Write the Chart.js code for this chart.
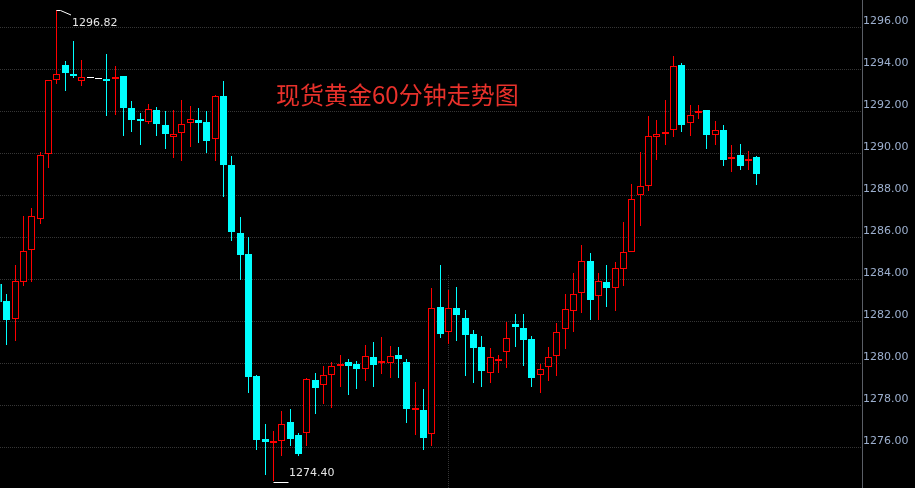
<!DOCTYPE html>
<html>
<head>
<meta charset="utf-8">
<title>现货黄金60分钟走势图</title>
<script src="https://cdn.jsdelivr.net/npm/chart.js@4.4.1/dist/chart.umd.min.js"></script>
<style>
    html, body { margin: 0; padding: 0; background: #000; }
    #wrap { position: relative; width: 915px; height: 488px; overflow: hidden; }
    #chart { display: block; }
    #title {
        position: absolute; left: 276px; top: 82px;
        font: 24px/24px "Noto Sans CJK SC", sans-serif;
        color: #e8312b; white-space: nowrap;
    }
</style>
</head>
<body>
<div id="wrap">
    <canvas id="chart" width="915" height="488"></canvas>
    <div id="title">现货黄金60分钟走势图</div>
</div>
<script>
// hourly candles, left to right (the first one is cut off by the left edge)
const opens = [
    1283.76, 1282.95, 1282.08, 1283.87, 1285.37, 1286.87, 1289.94, 1293.46, 1294.19, 1293.76,
    1293.44, 1293.56, 1293.51, 1293.52, 1293.54, 1293.67, 1292.14, 1291.63, 1291.49, 1292.05,
    1291.33, 1290.78, 1290.97, 1291.41, 1291.57, 1291.48, 1290.69, 1292.71, 1289.43, 1286.19,
    1285.19, 1279.40, 1276.40, 1276.18, 1276.30, 1277.21, 1276.57, 1276.69, 1279.19, 1278.94,
    1279.41, 1279.86, 1280.05, 1279.95, 1279.70, 1280.29, 1279.99, 1280.01, 1280.38, 1280.05,
    1277.78, 1277.78, 1276.63, 1282.67, 1281.49, 1282.62, 1282.14, 1281.38, 1280.76, 1279.55,
    1280.11, 1280.54, 1281.86, 1281.67, 1281.14, 1279.44, 1279.79, 1280.36, 1281.60, 1282.50,
    1283.36, 1284.86, 1283.18, 1283.86, 1283.59, 1284.49, 1285.30, 1288.01, 1288.44, 1290.78,
    1290.92, 1291.12, 1294.19, 1291.41, 1291.92, 1292.05, 1290.87, 1291.10, 1289.73, 1289.90,
    1289.62, 1289.81
];
const highs = [
    1283.90, 1283.29, 1284.67, 1287.00, 1287.37, 1290.06, 1293.48, 1296.82, 1294.38, 1295.33,
    1294.43, 1293.56, 1293.51, 1294.71, 1294.14, 1293.67, 1292.48, 1291.90, 1292.33, 1292.19,
    1292.00, 1292.05, 1292.52, 1292.24, 1292.14, 1292.00, 1292.76, 1293.43, 1289.86, 1286.95,
    1286.00, 1279.44, 1277.11, 1276.78, 1277.73, 1277.81, 1276.68, 1279.31, 1279.52, 1279.86,
    1280.05, 1280.38, 1280.19, 1280.10, 1280.86, 1281.00, 1281.24, 1280.81, 1280.76, 1280.19,
    1279.10, 1278.76, 1283.57, 1284.67, 1283.48, 1283.62, 1282.52, 1281.57, 1281.29, 1280.71,
    1280.38, 1281.95, 1282.33, 1282.33, 1281.29, 1279.95, 1280.76, 1281.90, 1283.29, 1284.29,
    1285.62, 1285.24, 1284.29, 1284.67, 1284.81, 1286.71, 1288.52, 1290.05, 1291.76, 1291.57,
    1292.52, 1294.62, 1294.29, 1292.29, 1292.29, 1292.05, 1291.52, 1291.33, 1290.38, 1290.43,
    1290.10, 1289.87
];
const lows = [
    1282.70, 1280.86, 1281.05, 1283.68, 1283.87, 1286.60, 1289.30, 1293.30, 1292.97, 1293.59,
    1293.21, 1293.56, 1293.51, 1291.76, 1291.81, 1290.81, 1291.00, 1290.38, 1291.38, 1290.81,
    1290.19, 1289.76, 1289.62, 1290.29, 1290.48, 1290.00, 1289.62, 1287.90, 1285.81, 1283.95,
    1278.57, 1275.87, 1274.68, 1274.40, 1275.59, 1276.06, 1275.59, 1276.06, 1277.59, 1278.06,
    1277.87, 1278.87, 1278.49, 1278.78, 1279.16, 1278.87, 1279.49, 1279.30, 1279.30, 1277.16,
    1276.59, 1275.87, 1276.06, 1281.20, 1280.92, 1281.06, 1279.40, 1279.06, 1278.87, 1279.06,
    1279.54, 1279.78, 1280.78, 1279.87, 1278.87, 1278.59, 1279.16, 1279.40, 1280.68, 1281.49,
    1282.40, 1282.06, 1282.06, 1282.68, 1282.49, 1283.68, 1285.28, 1286.54, 1288.20, 1289.68,
    1290.40, 1290.78, 1291.01, 1290.82, 1291.63, 1290.20, 1290.40, 1289.40, 1289.11, 1289.20,
    1289.20, 1288.49
];
const closes = [
    1282.90, 1282.05, 1283.90, 1285.32, 1286.99, 1289.89, 1293.46, 1293.75, 1293.82, 1293.67,
    1293.60, 1293.56, 1293.51, 1293.43, 1293.63, 1292.16, 1291.57, 1291.54, 1292.10, 1291.40,
    1290.90, 1290.89, 1291.37, 1291.60, 1291.44, 1290.57, 1292.71, 1289.43, 1286.25, 1285.16,
    1279.35, 1276.35, 1276.24, 1276.30, 1277.10, 1276.40, 1275.68, 1279.24, 1278.82, 1279.43,
    1279.86, 1279.94, 1279.87, 1279.73, 1280.33, 1279.92, 1280.10, 1280.33, 1280.20, 1277.82,
    1277.87, 1276.44, 1282.62, 1281.40, 1282.62, 1282.30, 1281.35, 1280.73, 1279.63, 1280.27,
    1280.19, 1281.18, 1281.73, 1281.11, 1279.30, 1279.71, 1280.27, 1281.46, 1282.56, 1283.29,
    1284.86, 1283.01, 1283.90, 1283.59, 1284.51, 1285.27, 1287.80, 1288.41, 1290.80, 1290.89,
    1291.00, 1294.14, 1291.35, 1291.80, 1292.00, 1290.86, 1291.10, 1289.68, 1289.81, 1289.40,
    1289.70, 1289.01
];

const yTicks = [1276, 1278, 1280, 1282, 1284, 1286, 1288, 1290, 1292, 1294, 1296];
const yMin = 1274.05, yMax = 1297.29;
const xMin = 0.24, xMax = 103.68;
const sessionBreak = 54;      // dotted day separator
const sessionBreakTop = 1284.2;

const upColor = '#ff0000';
const downColor = '#00ffff';
const flatColor = '#ffffff';
const gridColor = '#363636';

const candleColors = opens.map((o, i) => closes[i] > o ? upColor : (closes[i] < o ? downColor : flatColor));
const bodyFill = candleColors.map(c => c == upColor ? '#000000' : c);

const wickData = opens.map((o, i) => ({x: i, y: [lows[i], highs[i]]}));
const bodyData = opens.map((o, i) => ({x: i, y: [o, closes[i]]}));

const hiIdx = highs.indexOf(Math.max(...highs));
const loIdx = lows.indexOf(Math.min(...lows));

const separator = {
    id: 'separator',
    beforeDatasetsDraw(chart) {
        const {ctx, chartArea, scales: {x, y}} = chart;
        const px = x.getPixelForValue(sessionBreak) + 0.5;
        ctx.save();
        ctx.strokeStyle = gridColor;
        ctx.lineWidth = 1;
        ctx.setLineDash([1, 1]);
        ctx.beginPath();
        ctx.moveTo(px, y.getPixelForValue(sessionBreakTop));
        ctx.lineTo(px, chartArea.bottom);
        ctx.stroke();
        ctx.restore();
    }
};

// pixel-aligned x centres sit on whole pixels, shift half a pixel so 1px wicks stay sharp
const crisp = {
    id: 'crisp',
    beforeDatasetDraw(chart) {
        chart.ctx.save();
        chart.ctx.translate(0.5, 0);
    },
    afterDatasetDraw(chart) {
        chart.ctx.restore();
    }
};

// high / low price tags
const extremes = {
    id: 'extremes',
    afterDatasetsDraw(chart) {
        const {ctx, scales: {x, y}} = chart;
        ctx.save();
        ctx.strokeStyle = '#ffffff';
        ctx.fillStyle = '#e6e6e6';
        ctx.lineWidth = 1;
        ctx.font = '11px "DejaVu Sans"';
        ctx.textBaseline = 'middle';
        ctx.textAlign = 'left';

        const hx = x.getPixelForValue(hiIdx) + 0.5, hy = y.getPixelForValue(highs[hiIdx]) + 0.5;
        ctx.beginPath();
        ctx.moveTo(hx, hy);
        ctx.lineTo(hx + 4, hy);
        ctx.lineTo(hx + 14.5, hy + 4.5);
        ctx.stroke();
        ctx.fillText(highs[hiIdx].toFixed(2), hx + 15.5, hy + 13);

        const lx = x.getPixelForValue(loIdx) + 0.5, ly = y.getPixelForValue(lows[loIdx]) + 1.5;
        ctx.beginPath();
        ctx.moveTo(lx, ly);
        ctx.lineTo(lx + 15, ly);
        ctx.stroke();
        ctx.fillText(lows[loIdx].toFixed(2), lx + 15.5, ly - 9.5);
        ctx.restore();
    }
};

new Chart('chart', {
    type: 'bar',
    data: {
        datasets: [{
            data: wickData,
            backgroundColor: candleColors,
            borderWidth: 0,
            inflateAmount: 0,
            grouped: false,
            categoryPercentage: 1,
            barPercentage: 1,
            maxBarThickness: 1,
            order: 2
        }, {
            data: bodyData,
            backgroundColor: bodyFill,
            borderColor: candleColors,
            borderWidth: 1,
            borderSkipped: false,
            inflateAmount: 0,
            grouped: false,
            categoryPercentage: 1,
            barPercentage: 1,
            maxBarThickness: 7,
            minBarLength: 1,
            order: 1
        }]
    },
    options: {
        responsive: false,
        animation: false,
        devicePixelRatio: 1,
        layout: { padding: 0 },
        plugins: {
            legend: { display: false },
            tooltip: { enabled: false },
            title: { display: false }
        },
        scales: {
            x: {
                type: 'linear',
                min: xMin,
                max: xMax,
                offset: false,
                alignToPixels: true,
                grid: { offset: false },
                display: false
            },
            y: {
                position: 'right',
                min: yMin,
                max: yMax,
                alignToPixels: true,
                afterFit: scale => {
                    scale.width = 53;
                    scale.paddingTop = 0;
                    scale.paddingBottom = 0;
                },
                afterBuildTicks: scale => { scale.ticks = yTicks.map(v => ({value: v})); },
                grid: { color: gridColor, drawTicks: false },
                border: { display: true, color: '#5a5e66', dash: [1, 1] },
                ticks: {
                    color: '#9db0cf',
                    font: { family: 'DejaVu Sans', size: 11 },
                    padding: 1,
                    labelOffset: -6,
                    callback: v => Number(v).toFixed(2)
                }
            }
        }
    },
    plugins: [separator, crisp, extremes]
});
</script>
</body>
</html>
